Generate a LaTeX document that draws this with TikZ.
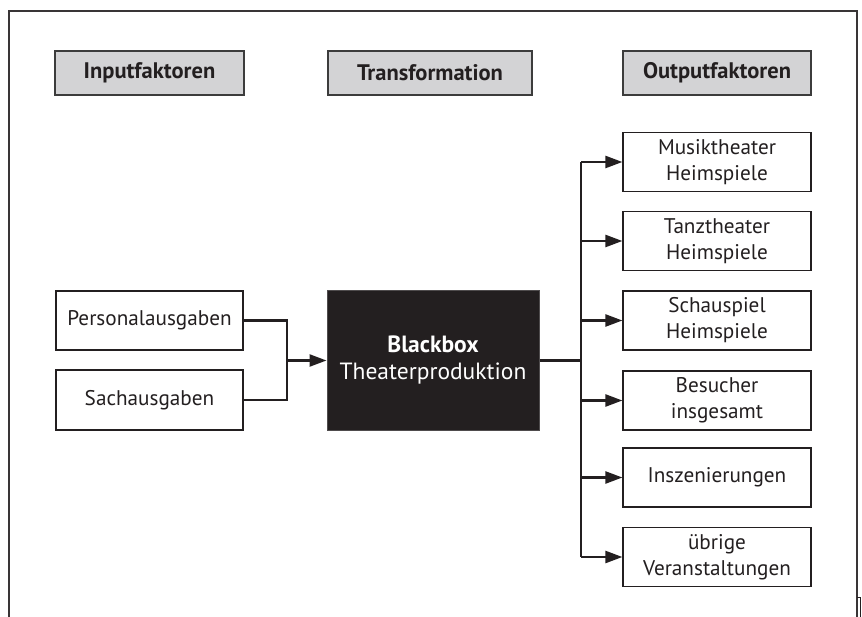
\documentclass[tikz,border=0pt]{standalone}
\usepackage{fontspec}
\setmainfont{PT Sans}
\usetikzlibrary{arrows.meta}
\definecolor{ink}{HTML}{231F20}
\definecolor{headfill}{HTML}{D3D3D5}
\definecolor{headline}{HTML}{3C3C3C}
\tikzset{
  headbox/.style={draw=headline,fill=headfill,line width=1.3pt,minimum width=189pt,minimum height=44pt,inner sep=0pt,font=\fontsize{22.5}{26}\selectfont\bfseries,text=ink},
  plainbox/.style={draw=ink,fill=white,line width=1.2pt,minimum width=188pt,minimum height=59pt,inner sep=0pt,align=center,font=\fontsize{21.2}{26}\selectfont,text=ink},
  blackbox/.style={draw=ink!80,fill=ink,line width=1pt,minimum width=212pt,minimum height=139pt,inner sep=0pt,align=center,font=\fontsize{23.5}{27}\selectfont,text=white},
  conn/.style={draw=ink,line width=2.4pt},
  arr/.style={conn,-{Triangle[length=17pt,width=12pt]}},
  frame/.style={draw=ink!90,line width=1.2pt}
}
\begin{document}
\begin{tikzpicture}[x=1pt,y=-1pt]
\useasboundingbox (0,0) rectangle (862,617);
\draw[frame] (9,617) -- (9,11) -- (857,11) -- (857,617);
\draw[ink,line width=0.8pt] (857,597) -- (860,597) -- (860,617);
\node[headbox] (hin) at (149.5,73) {Inputfaktoren};
\node[headbox,minimum width=204pt] (htr) at (430,73) {Transformation};
\node[headbox,minimum width=188pt] (hout) at (717,73) {Outputfaktoren};
\node[plainbox,minimum width=187pt] (pers) at (149.5,320.5) {Personalausgaben};
\node[plainbox,minimum width=187pt,minimum height=60pt] (sach) at (149.5,400) {Sachausgaben};
\node[blackbox] (bb) at (433,360.5) {\textbf{Blackbox}\\Theaterproduktion};
\node[plainbox] (o1) at (717,162) {Musiktheater\\Heimspiele};
\node[plainbox] (o2) at (717,241) {Tanztheater\\Heimspiele};
\node[plainbox] (o3) at (717,320.5) {Schauspiel\\Heimspiele};
\node[plainbox] (o4) at (717,400.5) {Besucher\\insgesamt};
\node[plainbox] (o5) at (717,477.5) {Inszenierungen};
\node[plainbox] (o6) at (717,557) {übrige\\Veranstaltungen};
\coordinate (jl) at (287,360.5);
\coordinate (jr) at (581,360.5);
\draw[conn] (pers.east) -| (jl) |- (sach.east);
\draw[arr] (jl) -- (bb.west);
\draw[conn] (bb.east) -- (jr);
\draw[conn] (jr |- o1.west) -- (jr |- o6.west);
\foreach \o in {o1,o2,o3,o4,o5,o6}{\draw[arr] (jr |- \o.west) -- (\o.west);}
\end{tikzpicture}
\end{document}
